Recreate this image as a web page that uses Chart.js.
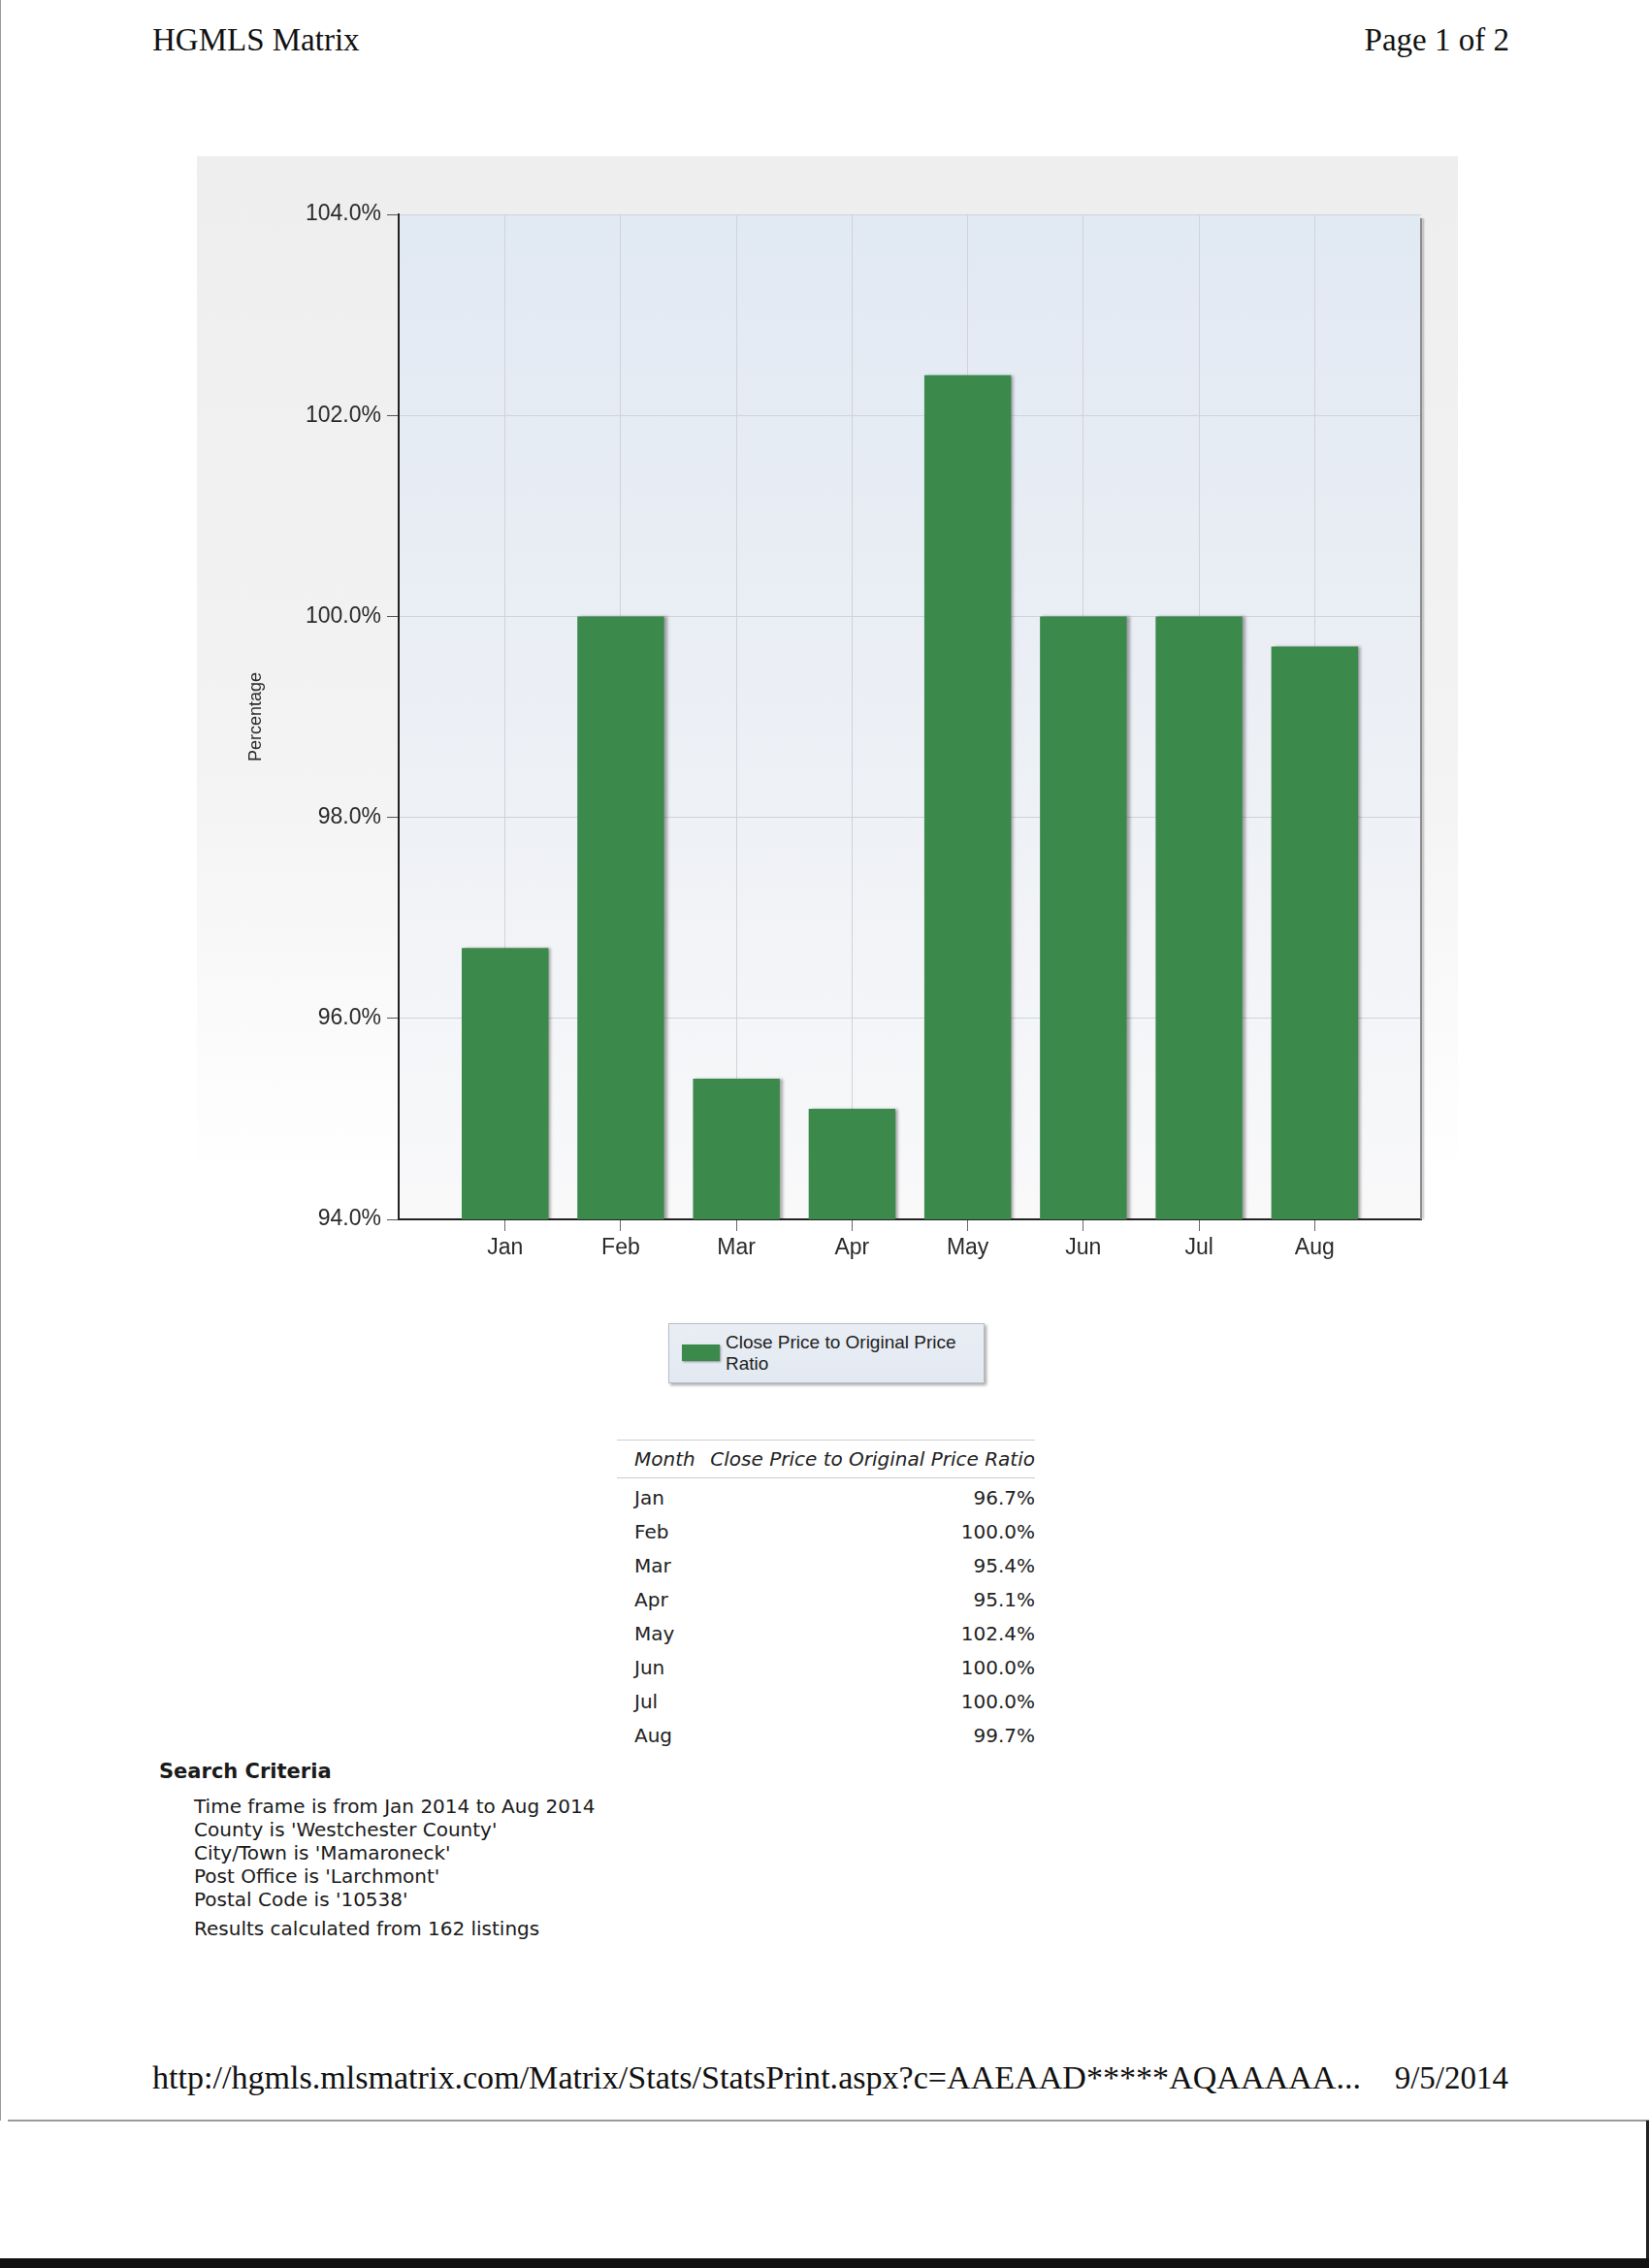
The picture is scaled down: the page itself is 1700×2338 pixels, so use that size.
<!DOCTYPE html>
<html lang="en">
<head>
    <meta charset="UTF-8">
    <title>HGMLS Matrix</title>
    <script src="https://cdn.jsdelivr.net/npm/chart.js"></script>
    <style>
        * {
            margin: 0;
            padding: 0;
            box-sizing: border-box;
        }

        body {
            width: 1700px;
            height: 2338px;
            position: relative;
            background: #ffffff;
            overflow: hidden;
            color: #222;
        }

        .serif {
            position: absolute;
            font-family: 'Liberation Serif', 'Times New Roman', serif;
            font-size: 33px;
            line-height: 1;
            color: #111;
            white-space: nowrap;
        }

        #panel {
            position: absolute;
            left: 203px;
            top: 161px;
            width: 1300px;
            height: 1150px;
            background: linear-gradient(to bottom, #eeeeee 0%, #f3f3f3 55%, #ffffff 92%);
        }

        #legend {
            position: absolute;
            left: 689px;
            top: 1364px;
            width: 326px;
            height: 62px;
            background: linear-gradient(to bottom, #e9eef5, #e3e9f1);
            border: 1px solid #b9bec6;
            box-shadow: 2px 2px 3px rgba(0, 0, 0, 0.35);
            font-family: 'Liberation Sans', Arial, sans-serif;
            font-size: 19px;
            line-height: 22px;
            color: #222;
        }

        #legend .swatch {
            position: absolute;
            left: 13px;
            top: 21px;
            width: 39px;
            height: 17px;
            box-shadow: 1px 1px 2px rgba(0, 0, 0, 0.4);
        }

        #legend .text {
            position: absolute;
            left: 58px;
            top: 8px;
            width: 262px;
        }

        #dataTable {
            position: absolute;
            left: 636px;
            top: 1484px;
            width: 431px;
            border-collapse: collapse;
            font-family: 'DejaVu Sans', Verdana, sans-serif;
            font-size: 20px;
            color: #222;
        }

        #dataTable th {
            font-weight: normal;
            font-style: italic;
            height: 39px;
            border-top: 1px solid #cfcfcf;
            border-bottom: 1px solid #cfcfcf;
            padding: 0;
            white-space: nowrap;
        }

        #dataTable td {
            height: 35px;
            padding: 5px 0 0 0;
            white-space: nowrap;
        }

        #dataTable .c1 {
            width: 97px;
            padding-left: 18px;
            text-align: left;
        }

        #dataTable .c2 {
            text-align: right;
        }

        #criteria {
            position: absolute;
            left: 164px;
            top: 1814px;
            font-family: 'DejaVu Sans', Verdana, sans-serif;
            color: #1a1a1a;
        }

        #criteria h3 {
            font-size: 21px;
            line-height: 24px;
            font-weight: bold;
            margin-bottom: 12px;
        }

        #criteria .line {
            margin-left: 36px;
            font-size: 20px;
            line-height: 24px;
            white-space: nowrap;
        }

        #criteria .result {
            margin-top: 6px;
        }

        .rule {
            position: absolute;
            background: #9a9a9a;
        }
    </style>
</head>
<body>
    <div class="serif" style="left:157px; top:25px;">HGMLS Matrix</div>
    <div class="serif" style="right:144px; top:25px;">Page 1 of 2</div>

    <div id="panel">
        <canvas id="ratioChart"></canvas>
    </div>

    <div id="legend"></div>

    <table id="dataTable">
        <thead>
            <tr>
                <th class="c1">Month</th>
                <th class="c2">Close Price to Original Price Ratio</th>
            </tr>
        </thead>
        <tbody id="tableBody"></tbody>
    </table>

    <div id="criteria">
        <h3>Search Criteria</h3>
        <div id="criteriaLines"></div>
    </div>

    <div class="serif" style="left:157px; top:2125px; font-size:34.1px;">http://hgmls.mlsmatrix.com/Matrix/Stats/StatsPrint.aspx?c=AAEAAD*****AQAAAAA...</div>
    <div class="serif" style="right:145px; top:2126px;">9/5/2014</div>

    <!-- scan edges -->
    <div class="rule" style="left:0; top:0; width:1px; height:2186px;"></div>
    <div class="rule" style="left:8px; top:2185px; width:1692px; height:2px;"></div>
    <div class="rule" style="left:1697px; top:2186px; width:3px; height:152px; background:#222;"></div>
    <div class="rule" style="left:0; top:2328px; width:1700px; height:10px; background:#111;"></div>

    <script>
        // Chart data
        const months = ['Jan', 'Feb', 'Mar', 'Apr', 'May', 'Jun', 'Jul', 'Aug'];
        const ratioValues = [96.7, 100.0, 95.4, 95.1, 102.4, 100.0, 100.0, 99.7];
        const yTicks = [94, 96, 98, 100, 102, 104];
        const seriesLabel = 'Close Price to Original Price Ratio';
        const criteria = [
            "Time frame is from Jan 2014 to Aug 2014",
            "County is 'Westchester County'",
            "City/Town is 'Mamaroneck'",
            "Post Office is 'Larchmont'",
            "Postal Code is '10538'"
        ];
        const resultNote = 'Results calculated from 162 listings';

        const barColor = '#3b8a4c';

        Chart.defaults.font.family = "'Liberation Sans', Arial, sans-serif";
        Chart.defaults.color = '#2a2a2a';

        // plot background + bar shadow + right border
        const plotDecor = {
            id: 'plotDecor',
            beforeDraw(chart) {
                const { ctx, chartArea: a } = chart;
                const g = ctx.createLinearGradient(0, a.top, 0, a.bottom);
                g.addColorStop(0, '#e1e9f3');
                g.addColorStop(0.55, '#edf0f5');
                g.addColorStop(1, '#f9f9fa');
                ctx.save();
                ctx.fillStyle = g;
                ctx.fillRect(a.left, a.top, a.right - a.left, a.bottom - a.top);
                ctx.restore();
            },
            beforeDatasetsDraw(chart) {
                const ctx = chart.ctx;
                ctx.save();
                ctx.shadowColor = 'rgba(0, 0, 0, 0.35)';
                ctx.shadowOffsetX = 3;
                ctx.shadowOffsetY = 0;
                ctx.shadowBlur = 3;
            },
            afterDatasetsDraw(chart) {
                const { ctx, chartArea: a } = chart;
                ctx.restore();
                ctx.save();
                ctx.strokeStyle = '#8c8c8c';
                ctx.lineWidth = 2;
                ctx.shadowColor = 'rgba(0, 0, 0, 0.25)';
                ctx.shadowOffsetX = 2;
                ctx.shadowBlur = 2;
                ctx.beginPath();
                ctx.moveTo(a.right, a.top + 4);
                ctx.lineTo(a.right, a.bottom);
                ctx.stroke();
                ctx.restore();
            }
        };

        const ctx = document.getElementById('ratioChart').getContext('2d');
        const ratioChart = new Chart(ctx, {
            type: 'bar',
            data: {
                datasets: [
                    {
                        label: seriesLabel,
                        data: months.map((m, i) => ({ x: i, y: ratioValues[i] })),
                        backgroundColor: barColor,
                        borderWidth: 0,
                        categoryPercentage: 1,
                        barPercentage: 0.75,
                    },
                ],
            },
            options: {
                responsive: true,
                maintainAspectRatio: false,
                animation: false,
                layout: {
                    padding: { left: 0, top: 60, right: 38, bottom: 0 },
                },
                plugins: {
                    legend: { display: false },
                    tooltip: { enabled: false },
                },
                scales: {
                    x: {
                        type: 'linear',
                        offset: false,
                        min: -0.92,
                        max: months.length - 1 + 0.92,
                        afterBuildTicks: (s) => {
                            s.ticks = months.map((m, i) => ({ value: i }));
                        },
                        afterFit: (s) => { s.height = 54; },
                        ticks: {
                            callback: (v) => months[v],
                            font: { size: 23 },
                            padding: 4,
                            autoSkip: false,
                            maxRotation: 0,
                        },
                        grid: {
                            offset: false,
                            color: '#cfd3d9',
                            tickColor: '#666',
                            tickLength: 12,
                        },
                        border: { color: '#222', width: 2 },
                    },
                    y: {
                        min: yTicks[0],
                        max: yTicks[yTicks.length - 1],
                        afterBuildTicks: (s) => {
                            s.ticks = yTicks.map((v) => ({ value: v }));
                        },
                        afterFit: (s) => { s.width = 208; },
                        ticks: {
                            callback: (v) => v.toFixed(1) + '%',
                            font: { size: 23 },
                            padding: 6,
                        },
                        grid: {
                            color: '#cfd3d9',
                            tickColor: '#555',
                            tickLength: 12,
                        },
                        border: { color: '#222', width: 2 },
                        title: {
                            display: true,
                            text: 'Percentage',
                            font: { size: 18 },
                            padding: { top: 50, bottom: 0 },
                        },
                    },
                },
            },
            plugins: [plotDecor],
        });

        // HTML legend from dataset
        const legend = document.getElementById('legend');
        ratioChart.data.datasets.forEach((ds) => {
            const sw = document.createElement('div');
            sw.className = 'swatch';
            sw.style.background = ds.backgroundColor;
            const tx = document.createElement('div');
            tx.className = 'text';
            tx.textContent = ds.label;
            legend.appendChild(sw);
            legend.appendChild(tx);
        });

        // data table
        const tableBody = document.getElementById('tableBody');
        months.forEach((m, i) => {
            const row = document.createElement('tr');
            const c1 = document.createElement('td');
            c1.className = 'c1';
            c1.textContent = m;
            const c2 = document.createElement('td');
            c2.className = 'c2';
            c2.textContent = ratioValues[i].toFixed(1) + '%';
            row.appendChild(c1);
            row.appendChild(c2);
            tableBody.appendChild(row);
        });

        // search criteria
        const criteriaLines = document.getElementById('criteriaLines');
        criteria.forEach((line) => {
            const d = document.createElement('div');
            d.className = 'line';
            d.textContent = line;
            criteriaLines.appendChild(d);
        });
        const res = document.createElement('div');
        res.className = 'line result';
        res.textContent = resultNote;
        criteriaLines.appendChild(res);
    </script>
</body>
</html>
